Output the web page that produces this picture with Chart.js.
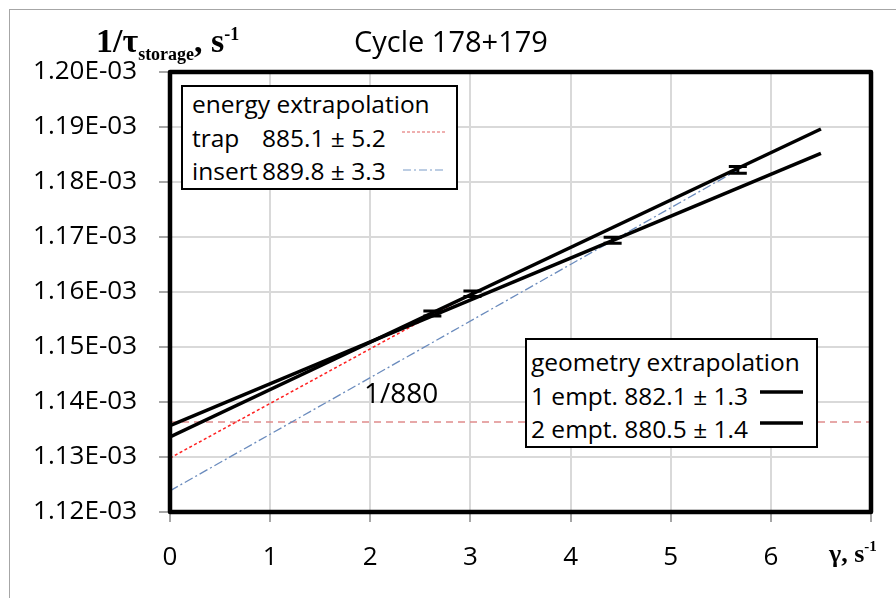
<!DOCTYPE html>
<html lang="en">
<head>
    <meta charset="UTF-8">
    <script src="https://cdn.jsdelivr.net/npm/chart.js"></script>
    <title>Cycle 178+179</title>
    <style>
        body { margin: 0; background: #fff; }
        #wrap { position: relative; width: 896px; height: 598px; overflow: hidden; }
        #frameOuter { position: absolute; left: 9px; top: 9px; width: 900px; height: 600px; border-left: 1.5px solid #a6a6a6; border-top: 1.5px solid #a6a6a6; }
        .txt { position: absolute; font-family: 'Open Sans', sans-serif; color: #000; white-space: nowrap; }
        .serif { position: absolute; font-family: 'Liberation Serif', serif; font-weight: bold; color: #000; white-space: nowrap; }
        .box { position: absolute; background: #fff; border: 2px solid #000; box-sizing: border-box;
               font-family: 'Open Sans', sans-serif; font-size: 24.5px; line-height: 33.5px; white-space: nowrap; }
        .lab { display: inline-block; width: 70px; }
        svg.sample { position: absolute; overflow: visible; }
    </style>
</head>
<body>
<div id="wrap">
    <div id="frameOuter"></div>
    <canvas id="chart" width="896" height="598"></canvas>

    <div class="serif" style="left:96px; top:24px; font-size:34px; line-height:34px;">1/τ<span style="font-size:18px; position:relative; top:8px;">storage</span>, s<span style="font-size:18px; position:relative; top:-12px;">-1</span></div>
    <div class="txt" style="left:354px; top:26px; font-size:29px; line-height:29px;">Cycle 178+179</div>
    <div class="serif" style="left:829px; top:541px; font-size:26px; line-height:26px;">γ, s<span style="font-size:15px; position:relative; top:-11px;">-1</span></div>
    <div class="txt" style="left:364px; top:378px; font-size:28px; line-height:28px;">1/880</div>

    <div class="box" style="left:181px; top:85px; width:277px; height:105px; padding-left:9px;">
        <div>energy extrapolation</div>
        <div><span class="lab">trap</span>885.1 ± 5.2</div>
        <div><span class="lab">insert</span>889.8 ± 3.3</div>
    </div>
    <div class="box" style="left:525px; top:338px; width:293px; height:110px; padding-left:4px; padding-top:5px;">
        <div>geometry extrapolation</div>
        <div>1 empt. 882.1 ± 1.3</div>
        <div>2 empt. 880.5 ± 1.4</div>
    </div>
    <svg class="sample" style="left:0; top:0;" width="896" height="598">
        <line x1="402" y1="132" x2="445" y2="132" stroke="#e06060" stroke-width="1.2" stroke-dasharray="3,2"/>
        <line x1="403" y1="170" x2="445" y2="170" stroke="#7a9cc8" stroke-width="1.2" stroke-dasharray="8,3,2,3"/>
        <line x1="760" y1="392" x2="803" y2="392" stroke="#000" stroke-width="3.5"/>
        <line x1="760" y1="423" x2="803" y2="423" stroke="#000" stroke-width="3.5"/>
    </svg>
</div>

<script>
    // fitted lines, x in 1/s, y in 1/s
    const fitX = [0, 6.5];
    const oneEmptY = [1.13366e-3, 1.18964e-3];
    const twoEmptY = [1.13572e-3, 1.18522e-3];
    const trapX = [0, 3.02];
    const trapY = [1.12981e-3, 1.1598e-3];
    const insertX = [0, 5.67];
    const insertY = [1.12385e-3, 1.1822e-3];
    const refX = [0, 7];
    const refY = [1.13636e-3, 1.13636e-3];

    // measured points
    const measX = [2.62, 3.02, 4.42, 5.67];
    const measY = [1.1561e-3, 1.1597e-3, 1.1694e-3, 1.1822e-3];
    const measErr = [0.45e-6, 0.5e-6, 0.55e-6, 0.6e-6];

    const yMin = 1.12e-3, yMax = 1.20e-3, yStep = 1e-5;
    const xMin = 0, xMax = 7;
    const xTickLabels = ['0', '1', '2', '3', '4', '5', '6', ''];

    function pts(xs, ys) {
        return xs.map((x, i) => ({x: x, y: ys[i]}));
    }

    function fmtE(v) {
        const parts = v.toExponential(2).split('e');
        const n = parseInt(parts[1]);
        return parts[0] + 'E' + (n < 0 ? '-' : '+') + String(Math.abs(n)).padStart(2, '0');
    }

    const errorBars = {
        id: 'errorBars',
        afterDatasetsDraw(chart) {
            const ctx = chart.ctx, xs = chart.scales.x, ys = chart.scales.y;
            ctx.save();
            ctx.strokeStyle = '#000';
            ctx.lineWidth = 3;
            measX.forEach((x, i) => {
                const px = xs.getPixelForValue(x);
                const top = ys.getPixelForValue(measY[i] + measErr[i]);
                const bot = ys.getPixelForValue(measY[i] - measErr[i]);
                ctx.beginPath();
                ctx.moveTo(px, top); ctx.lineTo(px, bot);
                ctx.moveTo(px - 9, top); ctx.lineTo(px + 9, top);
                ctx.moveTo(px - 9, bot); ctx.lineTo(px + 9, bot);
                ctx.stroke();
            });
            ctx.restore();
        }
    };

    const plotFrame = {
        id: 'plotFrame',
        afterDraw(chart) {
            const a = chart.chartArea, ctx = chart.ctx;
            ctx.save();
            ctx.strokeStyle = '#000';
            ctx.lineWidth = 4.5;
            ctx.lineJoin = 'round';
            ctx.strokeRect(a.left, a.top, a.right - a.left, a.bottom - a.top);
            ctx.restore();
        }
    };

    new Chart(document.getElementById('chart'), {
        type: 'scatter',
        data: {
            datasets: [
                {label: '1 empt.', type: 'line', data: pts(fitX, oneEmptY), borderColor: '#000', borderWidth: 3.5, pointRadius: 0},
                {label: '2 empt.', type: 'line', data: pts(fitX, twoEmptY), borderColor: '#000', borderWidth: 3.5, pointRadius: 0},
                {label: 'points', data: pts(measX, measY), pointRadius: 0, showLine: false},
                {label: 'trap', type: 'line', data: pts(trapX, trapY), borderColor: '#ff2020', borderWidth: 1.5, borderDash: [3, 2.5], pointRadius: 0},
                {label: 'insert', type: 'line', data: pts(insertX, insertY), borderColor: '#6a8bbd', borderWidth: 1.3, borderDash: [9, 3, 2, 3], pointRadius: 0},
                {label: '1/880', type: 'line', data: pts(refX, refY), borderColor: '#e08c8c', borderWidth: 1.5, borderDash: [7, 5], pointRadius: 0}
            ]
        },
        options: {
            responsive: false,
            animation: false,
            devicePixelRatio: 1,
            layout: {padding: {left: 0, top: 72, right: 25, bottom: 0}},
            plugins: {legend: {display: false}, tooltip: {enabled: false}, title: {display: false}},
            scales: {
                x: {
                    type: 'linear', min: xMin, max: xMax,
                    afterFit(s) { s.height = 86; },
                    border: {display: false},
                    grid: {color: '#d9d9d9', lineWidth: 2, tickLength: 10, tickColor: '#a6a6a6', tickWidth: 2},
                    ticks: {
                        stepSize: 1, padding: 20, color: '#000',
                        font: {family: 'Open Sans', size: 26},
                        callback: (v) => xTickLabels[Math.round(v)] ?? ''
                    }
                },
                y: {
                    type: 'linear', min: yMin, max: yMax,
                    afterFit(s) { s.width = 170; },
                    border: {display: false},
                    grid: {color: '#d9d9d9', lineWidth: 2, tickLength: 11, tickColor: '#a6a6a6', tickWidth: 2},
                    ticks: {
                        stepSize: yStep, padding: 22, color: '#000',
                        font: {family: 'Open Sans', size: 26},
                        callback: (v) => fmtE(v)
                    }
                }
            }
        },
        plugins: [errorBars, plotFrame]
    });
</script>
</body>
</html>
